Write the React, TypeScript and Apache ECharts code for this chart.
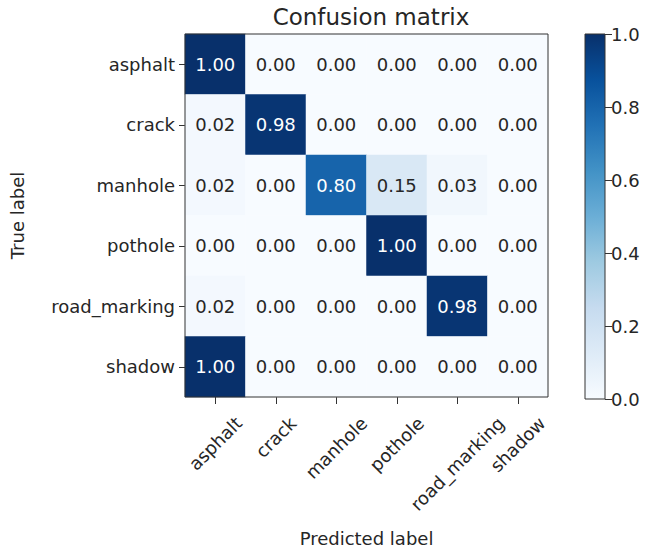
import React, { useEffect, useRef } from 'react';
import * as echarts from 'echarts';

const chartTitle = 'Confusion matrix';
const xAxisName = 'Predicted label';
const yAxisName = 'True label';
const categories = ['asphalt', 'crack', 'manhole', 'pothole', 'road_marking', 'shadow'];
// rows = true label, columns = predicted label
const confusion = [
  [1.0, 0.0, 0.0, 0.0, 0.0, 0.0],
  [0.02, 0.98, 0.0, 0.0, 0.0, 0.0],
  [0.02, 0.0, 0.8, 0.15, 0.03, 0.0],
  [0.0, 0.0, 0.0, 1.0, 0.0, 0.0],
  [0.02, 0.0, 0.0, 0.0, 0.98, 0.0],
  [1.0, 0.0, 0.0, 0.0, 0.0, 0.0],
];
const colorbarMin = 0;
const colorbarMax = 1;
const colorbarStep = 0.2;
const blues = ['#f7fbff', '#deebf7', '#c6dbef', '#9ecae1', '#6baed6', '#4292c6', '#2171b5', '#08519c', '#08306b'];

export default function App() {
  const ref = useRef<HTMLDivElement>(null);
  useEffect(() => {
    const chart = echarts.init(ref.current!, null, { renderer: 'svg' });
    const font = '"DejaVu Sans", sans-serif';
    const fs = 18;
    const dark = '#262626';
    const ctx = document.createElement('canvas').getContext('2d')!;
    ctx.font = `${fs}px "DejaVu Sans"`;
    const rich: Record<string, any> = {};
    categories.forEach((c, i) => {
      const L = ctx.measureText(c).width;
      rich['l' + i] = { fontSize: fs, fontFamily: font, color: dark, padding: [L / 2, L / 2, 0, 0] };
    });
    const data: any[] = [];
    confusion.forEach((row, r) =>
      row.forEach((v, c) =>
        data.push({ value: [c, r, v], label: { color: v > 0.5 ? '#ffffff' : dark } })
      )
    );
    const stops = blues.map((color, i) => ({ offset: i / (blues.length - 1), color }));

    chart.setOption({
      animation: false,
      backgroundColor: '#ffffff',
      textStyle: { fontFamily: font },
      title: {
        text: chartTitle,
        left: 366,
        textAlign: 'center',
        top: 0,
        textStyle: { fontFamily: font, fontSize: 23, fontWeight: 'normal', color: dark },
      },
      grid: [
        { left: 184, top: 34, width: 364, height: 365, show: true, borderColor: '#333', borderWidth: 1, backgroundColor: 'transparent', z: 10 },
        { left: 585, top: 34, width: 20, height: 365, show: true, borderColor: '#333', borderWidth: 1, backgroundColor: 'transparent', z: 10 },
      ],
      xAxis: [
        {
          type: 'category',
          gridIndex: 0,
          data: categories,
          position: 'bottom',
          name: xAxisName,
          nameLocation: 'middle',
          nameGap: 132,
          nameTextStyle: { fontFamily: font, fontSize: fs, color: dark },
          axisLine: { show: false },
          axisTick: { show: true, alignWithLabel: true, length: 7, lineStyle: { color: '#333' } },
          splitLine: { show: false },
          axisLabel: {
            interval: 0,
            rotate: 45,
            align: 'center',
            verticalAlign: 'middle',
            margin: 23,
            formatter: (v: string, i: number) => `{l${i}|${v}}`,
            rich,
          },
        },
        { type: 'category', gridIndex: 1, data: ['cb'], show: false },
      ],
      yAxis: [
        {
          type: 'category',
          gridIndex: 0,
          data: categories,
          inverse: true,
          name: yAxisName,
          nameLocation: 'middle',
          nameGap: 159,
          nameRotate: 90,
          nameTextStyle: { fontFamily: font, fontSize: fs, color: dark },
          axisLine: { show: false },
          axisTick: { show: true, alignWithLabel: true, length: 6, lineStyle: { color: '#333' } },
          splitLine: { show: false },
          axisLabel: { interval: 0, margin: 10, fontFamily: font, fontSize: fs, color: dark },
        },
        {
          type: 'value',
          gridIndex: 1,
          min: colorbarMin,
          max: colorbarMax,
          interval: colorbarStep,
          position: 'right',
          axisLine: { show: false },
          axisTick: { show: true, length: 7, lineStyle: { color: '#333' } },
          splitLine: { show: false },
          axisLabel: { margin: 6, fontFamily: font, fontSize: fs, color: dark, formatter: (v: number) => v.toFixed(1) },
        },
      ],
      visualMap: {
        show: false,
        type: 'continuous',
        min: colorbarMin,
        max: colorbarMax,
        seriesIndex: 0,
        dimension: 2,
        inRange: { color: blues },
      },
      series: [
        {
          type: 'heatmap',
          xAxisIndex: 0,
          yAxisIndex: 0,
          data,
          itemStyle: { borderWidth: 0 },
          label: {
            show: true,
            fontFamily: font,
            fontSize: fs,
            formatter: (p: any) => p.value[2].toFixed(2),
          },
          emphasis: { disabled: true },
        },
        {
          type: 'bar',
          xAxisIndex: 1,
          yAxisIndex: 1,
          data: [colorbarMax],
          barWidth: '100%',
          itemStyle: { color: new echarts.graphic.LinearGradient(0, 1, 0, 0, stops) },
          silent: true,
        },
      ],
    });
    return () => chart.dispose();
  }, []);
  return <div ref={ref} style={{ position: 'fixed', left: 0, top: 0, width: 648, height: 552 }} />;
}
